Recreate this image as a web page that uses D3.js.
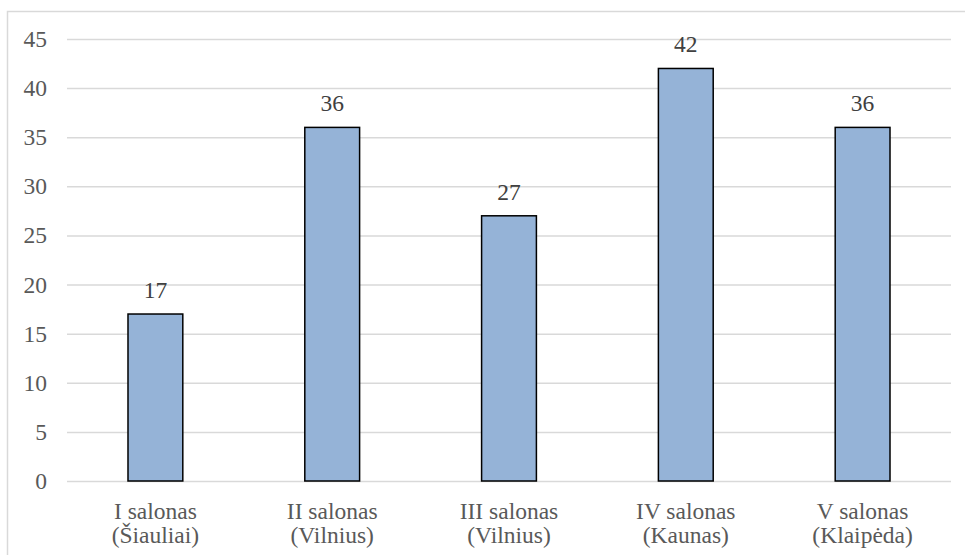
<!DOCTYPE html>
<html>
<head>
<meta charset="utf-8">
<script src="https://cdn.jsdelivr.net/npm/d3@7"></script>
<style>
  html, body { margin: 0; padding: 0; background: #fff; }
  svg { display: block; }
  svg text { font-family: "Liberation Serif", serif; }
</style>
</head>
<body>
<svg id="chart" width="965" height="555"></svg>
<script>
// Salon names (two-line labels) and counts
const salonTitles = ["I salonas", "II salonas", "III salonas", "IV salonas", "V salonas"];
const salonCities = ["(Šiauliai)", "(Vilnius)", "(Vilnius)", "(Kaunas)", "(Klaipėda)"];
const counts = [17, 36, 27, 42, 36];
const yTicks = [0, 5, 10, 15, 20, 25, 30, 35, 40, 45];

const svg = d3.select("#chart");
const W = 965, H = 555;
const margin = { top: 39, right: 14, bottom: 74, left: 67 };
const font = "Liberation Serif";
const fontSize = 23.5;
const textColor = "#595959";

// outer chart frame (only top and left edges fall inside the view)
svg.append("rect")
  .attr("x", 7.5).attr("y", 11.5)
  .attr("width", W + 10).attr("height", H + 10)
  .attr("fill", "none")
  .attr("stroke", "#d9d9d9")
  .attr("stroke-width", 1.5);

const x = d3.scaleBand()
  .domain(d3.range(counts.length))
  .range([margin.left, W - margin.right])
  .paddingInner(0.69)
  .paddingOuter(0.345);

const y = d3.scaleLinear()
  .domain([0, 45])
  .range([H - margin.bottom, margin.top]);

// horizontal gridlines + y labels via axis
const yAxis = d3.axisLeft(y)
  .tickValues(yTicks)
  .tickSize(-(W - margin.right - margin.left))
  .tickPadding(20)
  .tickFormat(d3.format("d"));

const gy = svg.append("g")
  .attr("transform", `translate(${margin.left},0)`)
  .call(yAxis)
  .attr("font-family", font)
  .attr("font-size", fontSize);
gy.select(".domain").remove();
gy.selectAll(".tick line")
  .attr("stroke", "#d9d9d9")
  .attr("stroke-width", 1.5);
gy.selectAll(".tick text")
  .attr("fill", textColor);

// bars
svg.append("g").selectAll("rect")
  .data(counts)
  .join("rect")
  .attr("x", (d, i) => x(i))
  .attr("y", d => y(d))
  .attr("width", x.bandwidth())
  .attr("height", d => y(0) - y(d))
  .attr("fill", "#95b3d7")
  .attr("stroke", "#000")
  .attr("stroke-width", 1.5);

// value labels
svg.append("g")
  .attr("font-family", font)
  .attr("font-size", fontSize)
  .selectAll("text")
  .data(counts)
  .join("text")
  .attr("x", (d, i) => x(i) + x.bandwidth() / 2)
  .attr("y", d => y(d) - 16)
  .attr("text-anchor", "middle")
  .attr("fill", "#404040")
  .text(d => d);

// category labels (two lines)
const cat = svg.append("g")
  .attr("font-family", font)
  .attr("font-size", fontSize)
  .selectAll("text")
  .data(salonTitles)
  .join("text")
  .attr("text-anchor", "middle")
  .attr("fill", textColor);
cat.append("tspan")
  .attr("x", (d, i) => x(i) + x.bandwidth() / 2)
  .attr("y", 519)
  .text(d => d);
cat.append("tspan")
  .attr("x", (d, i) => x(i) + x.bandwidth() / 2)
  .attr("y", 543)
  .text((d, i) => salonCities[i]);
</script>
</body>
</html>
